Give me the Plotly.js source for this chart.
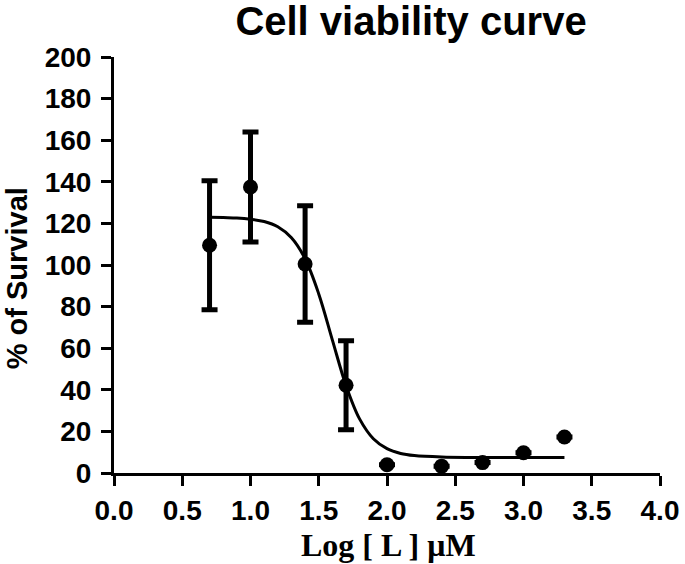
<!DOCTYPE html>
<html>
<head>
<meta charset="utf-8">
<script src="https://cdn.plot.ly/plotly-3.0.1.min.js"></script>
<style>html,body{margin:0;padding:0;background:#fff;}#chart{width:685px;height:564px;}</style>
</head>
<body>
<div id="chart"></div>
<script>
// Measured points (log concentration, % survival, SEM)
const logConc = [0.7, 1.0, 1.4, 1.7, 2.0, 2.4, 2.7, 3.0, 3.3];
const survival = [109.5, 137.5, 100.5, 42.2, 4.0, 3.3, 5.0, 9.7, 17.3];
const errorSEM = [31, 26.5, 28, 21.4, null, null, null, null, null];

// Fitted curve
const curveX = [0.7, 0.8, 0.9, 1.0, 1.1, 1.2, 1.3, 1.4, 1.5, 1.6, 1.7, 1.8, 1.9, 2.0, 2.1, 2.2, 2.4, 2.6, 3.0, 3.3];
const curveY = [123.0, 122.8, 122.6, 122.0, 120.9, 118.4, 113.1, 103.0, 86.1, 63.9, 42.0, 25.9, 16.5, 11.7, 9.4, 8.4, 7.7, 7.5, 7.5, 7.5];

const xTicks = [0.0, 0.5, 1.0, 1.5, 2.0, 2.5, 3.0, 3.5, 4.0];
const xTickLabels = ['0.0', '0.5', '1.0', '1.5', '2.0', '2.5', '3.0', '3.5', '4.0'];
const yTicks = [0, 20, 40, 60, 80, 100, 120, 140, 160, 180, 200];

const sans = 'Liberation Sans, Arial, Helvetica, sans-serif';
const serif = 'Liberation Serif, Times New Roman, serif';

const traces = [
  {
    x: curveX, y: curveY, type: 'scatter', mode: 'lines',
    line: {color: '#000', width: 3, shape: 'spline'},
    hoverinfo: 'skip', showlegend: false
  },
  {
    x: logConc, y: survival, type: 'scatter', mode: 'markers',
    marker: {color: '#000', size: 15, symbol: 'circle'},
    error_y: {type: 'data', array: errorSEM, visible: true, color: '#000', thickness: 5, width: 8},
    showlegend: false
  }
];

const layout = {
  width: 685, height: 564,
  margin: {l: 114, r: 25, t: 57, b: 91},
  paper_bgcolor: '#fff', plot_bgcolor: '#fff',
  showlegend: false,
  title: {
    text: 'Cell viability curve',
    font: {family: sans, size: 40, color: '#000', weight: 'bold'},
    xref: 'paper', x: 0.544, xanchor: 'center',
    yref: 'container', y: 0.963, yanchor: 'middle'
  },
  xaxis: {
    range: [0, 4], tickvals: xTicks, ticktext: xTickLabels,
    showgrid: false, zeroline: false,
    showline: true, linecolor: '#000', linewidth: 3,
    ticks: 'outside', ticklen: 10, tickwidth: 3, tickcolor: '#000',
    tickfont: {family: sans, size: 28, color: '#000', weight: 'bold'},
    fixedrange: true
  },
  yaxis: {
    range: [0, 200], tickvals: yTicks,
    showgrid: false, zeroline: false,
    showline: true, linecolor: '#000', linewidth: 3,
    ticks: 'outside', ticklen: 10, tickwidth: 3, tickcolor: '#000',
    ticklabelstandoff: 4,
    tickfont: {family: sans, size: 28, color: '#000', weight: 'bold'},
    fixedrange: true
  },
  annotations: [
    {
      text: 'Log [ L ] μM', xref: 'paper', yref: 'paper',
      x: 0.503, y: -0.172, xanchor: 'center', yanchor: 'middle',
      showarrow: false,
      font: {family: serif, size: 32, color: '#000', weight: 'bold'}
    },
    {
      text: '% of Survival', xref: 'paper', yref: 'paper',
      x: -0.1777, y: 0.468, xanchor: 'center', yanchor: 'middle',
      textangle: -90, showarrow: false,
      font: {family: sans, size: 29, color: '#000', weight: 'bold'}
    }
  ]
};

Plotly.newPlot('chart', traces, layout, {displayModeBar: false, staticPlot: true});
</script>
</body>
</html>
